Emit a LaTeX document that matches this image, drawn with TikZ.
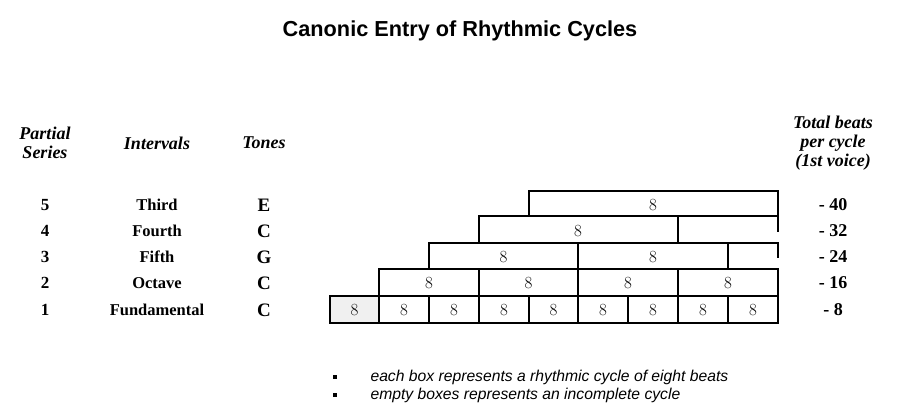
\documentclass[tikz,border=0pt]{standalone}
\usepackage{fontspec}
\setmainfont{Liberation Serif}
\newfontfamily\sans{Liberation Sans}
\newfontfamily\lm{Latin Modern Roman}
\begin{document}
\begin{tikzpicture}[x=1pt,y=-1pt]
\useasboundingbox (0,0) rectangle (900,418);
\tikzset{hdr/.style={font=\fontsize{18}{19}\selectfont\bfseries\itshape,align=center},
 lab/.style={font=\fontsize{17}{19}\selectfont\bfseries},
 eight/.style={font=\lm\fontsize{17}{19}\selectfont},
 bx/.style={line width=2.1pt},
 note/.style={font=\sans\fontsize{15.7}{17}\selectfont\itshape,anchor=west}}
\node[font=\sans\fontsize{21.7}{24}\selectfont\bfseries] (title) at (460,31) {Canonic Entry of Rhythmic Cycles};
\node[hdr] (h1) at (45,143) {Partial\\Series};
\node[hdr] (h2) at (157,143) {Intervals};
\node[hdr] (h3) at (264,143) {Tones};
\node[hdr] (h4) at (833,143) {Total beats\\per cycle\\(1st voice)};
\foreach \n/\i/\t/\b/\y in {5/Third/E/40/205,4/Fourth/C/32/231,3/Fifth/G/24/257,2/Octave/C/16/283,1/Fundamental/C/8/310}{
 \node[lab] (p\n) at (45,\y) {\n};
 \node[lab,font=\fontsize{16.5}{18}\selectfont\bfseries] (i\n) at (157,\y) {\i};
 \node[lab,font=\fontsize{19}{20}\selectfont\bfseries] (t\n) at (264,\y) {\t};
 \node[lab,font=\fontsize{18}{20}\selectfont\bfseries] (b\n) at (833,\y) {- \b};
}
% row 1
\fill[gray!12] (330,296) rectangle (379,323);
\draw[bx] (330,296) rectangle (778,323);
\foreach \x in {379,429,479,529,578,628,678,728} \draw[bx] (\x,296) -- (\x,323);
\foreach \a/\c in {330/379,379/429,429/479,479/529,529/578,578/628,628/678,678/728,728/778}
 \node[eight] at ({(\a+\c)/2},310) {8};
% row 2
\draw[bx] (379,296) -- (379,269) -- (778,269) -- (778,296);
\foreach \x in {479,578,678} \draw[bx] (\x,269) -- (\x,296);
\foreach \a/\c in {379/479,479/578,578/678,678/778} \node[eight] at ({(\a+\c)/2},283) {8};
% row 3
\draw[bx] (429,269) -- (429,243) -- (778,243) -- (778,258);
\foreach \x in {578,728} \draw[bx] (\x,243) -- (\x,269);
\foreach \a/\c in {429/578,578/728} \node[eight] at ({(\a+\c)/2},257) {8};
% row 4
\draw[bx] (479,243) -- (479,216) -- (778,216) -- (778,232);
\draw[bx] (678,216) -- (678,243);
\node[eight] at (578,231) {8};
% row 5
\draw[bx] (529,216) -- (529,191) -- (778,191) -- (778,216);
\node[eight] at (653,205) {8};
% notes
\fill (333,379) rectangle +(4,-4);
\fill (333,397) rectangle +(4,-4);
\node[note] (n1) at (367,377) {each box represents a rhythmic cycle of eight beats};
\node[note] (n2) at (367,395) {empty boxes represents an incomplete cycle};
\end{tikzpicture}
\end{document}
